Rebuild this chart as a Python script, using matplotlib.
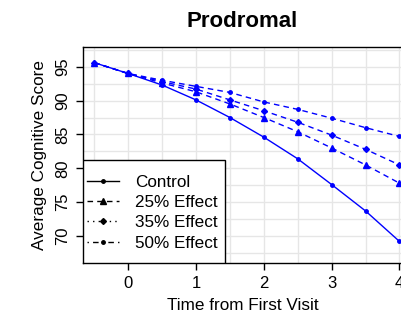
import matplotlib
matplotlib.use("Agg")
import matplotlib.pyplot as plt
import numpy as np
from matplotlib.lines import Line2D
from matplotlib.patches import Rectangle

plt.rcParams['font.family'] = ['Liberation Sans', 'DejaVu Sans']

time = [-0.5, 0, 0.5, 1, 1.5, 2, 2.5, 3, 3.5, 4]
control = [95.6, 94.0, 92.3, 90.1, 87.5, 84.6, 81.4, 77.6, 73.7, 69.2]
eff25 = [95.6, 94.0, 92.6, 91.3, 89.5, 87.5, 85.4, 83.0, 80.5, 77.8]
eff35 = [95.6, 94.0, 92.8, 91.7, 90.1, 88.5, 86.8, 84.9, 82.8, 80.5]
eff50 = [95.6, 94.0, 93.0, 92.1, 91.2, 89.8, 88.7, 87.4, 86.0, 84.7]
labels = ["Control", "25% Effect", "35% Effect", "50% Effect"]
xticks = [0, 1, 2, 3, 4]
yticks = [70, 75, 80, 85, 90, 95]

fig = plt.figure(figsize=(4.02, 3.21), dpi=100)
ax = fig.add_axes([0.2057, 0.1797, 0.7943, 0.6753])

for v in np.arange(-0.5, 4.01, 0.5):
    ax.axvline(v, color='#E6E6E6', lw=1, zorder=0)
for v in np.arange(67.5, 98, 2.5):
    ax.axhline(v, color='#E6E6E6', lw=1, zorder=0)

blue = '#0000FF'
ax.plot(time, control, '-', color=blue, lw=1, marker='o', ms=2.5, zorder=3)
ax.plot(time, eff25, color=blue, lw=1, ls=(0, (4, 3)), marker='^', ms=5, zorder=3)
ax.plot(time, eff35, color=blue, lw=1, ls=(0, (4, 3)), marker='D', ms=3, zorder=3)
ax.plot(time, eff50, color=blue, lw=1, ls=(0, (4, 3)), marker='o', ms=2.5, zorder=3)

ax.set_xlim(-0.67, 4.037)
ax.set_ylim(65.97, 97.98)
ax.set_xticks(xticks)
ax.set_yticks(yticks)
ax.set_yticklabels([str(t) for t in yticks], rotation=90, va='center')
ax.tick_params(direction='out', length=5, width=1, labelsize=12, colors='black', pad=4)
for s in ['left', 'bottom', 'top']:
    ax.spines[s].set_linewidth(1)
ax.spines['right'].set_visible(False)

ax.set_xlabel("Time from First Visit", fontsize=12.3, labelpad=5)
ax.set_ylabel("Average Cognitive Score", fontsize=12.3, labelpad=6)
ax.set_title("Prodromal", fontsize=16, fontweight='bold', pad=14)

# legend frame
ax.add_patch(Rectangle((0, 0), 0.4457, 0.4765, transform=ax.transAxes,
                       facecolor='white', edgecolor='black', lw=1, zorder=5))

handles = [
    Line2D([], [], color='black', lw=1, ls='-', marker='o', ms=2.5),
    Line2D([], [], color='black', lw=1, ls=(0, (4, 3)), marker='^', ms=5),
    Line2D([], [], color='black', lw=1, ls=(0, (1, 3)), marker='D', ms=3),
    Line2D([], [], color='black', lw=1, ls=(0, (1, 3, 4, 3)), marker='o', ms=2.5),
]
leg = ax.legend(handles, labels, loc='center left', bbox_to_anchor=(0.0135, 0.234),
                borderaxespad=0, borderpad=0, fontsize=12.3, frameon=False,
                handlelength=1.9, handletextpad=0.9, labelspacing=0.31)
leg.set_zorder(6)

fig.savefig("out.png", dpi=100)
